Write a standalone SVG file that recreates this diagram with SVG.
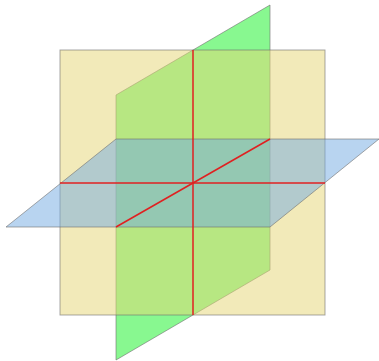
<svg xmlns="http://www.w3.org/2000/svg" width="379" height="361" viewBox="0 0 379 361">
<style>
.pl{stroke:#707070;stroke-opacity:0.6;stroke-width:1;stroke-linejoin:miter}
.ax{stroke:#e02020;stroke-width:1.5;fill:none}
</style>
<rect width="379" height="361" fill="#ffffff"/>
<g id="green-plane"><polygon class="pl" points="116,360 116,95 270,5 270,270" fill="#88f890"/></g>
<g id="yellow-plane"><rect class="pl" x="60" y="50" width="265" height="265" fill="#e5d573" fill-opacity="0.5"/></g>
<g id="blue-plane"><polygon class="pl" points="6,227 270,227 379,139 116,139" fill="#71a9e1" fill-opacity="0.5"/></g>
<g id="axes">
<line class="ax" x1="193" y1="50" x2="193" y2="315"/>
<line class="ax" x1="60" y1="183" x2="325" y2="183"/>
<line class="ax" x1="116" y1="227" x2="270" y2="139"/>
</g>
</svg>
